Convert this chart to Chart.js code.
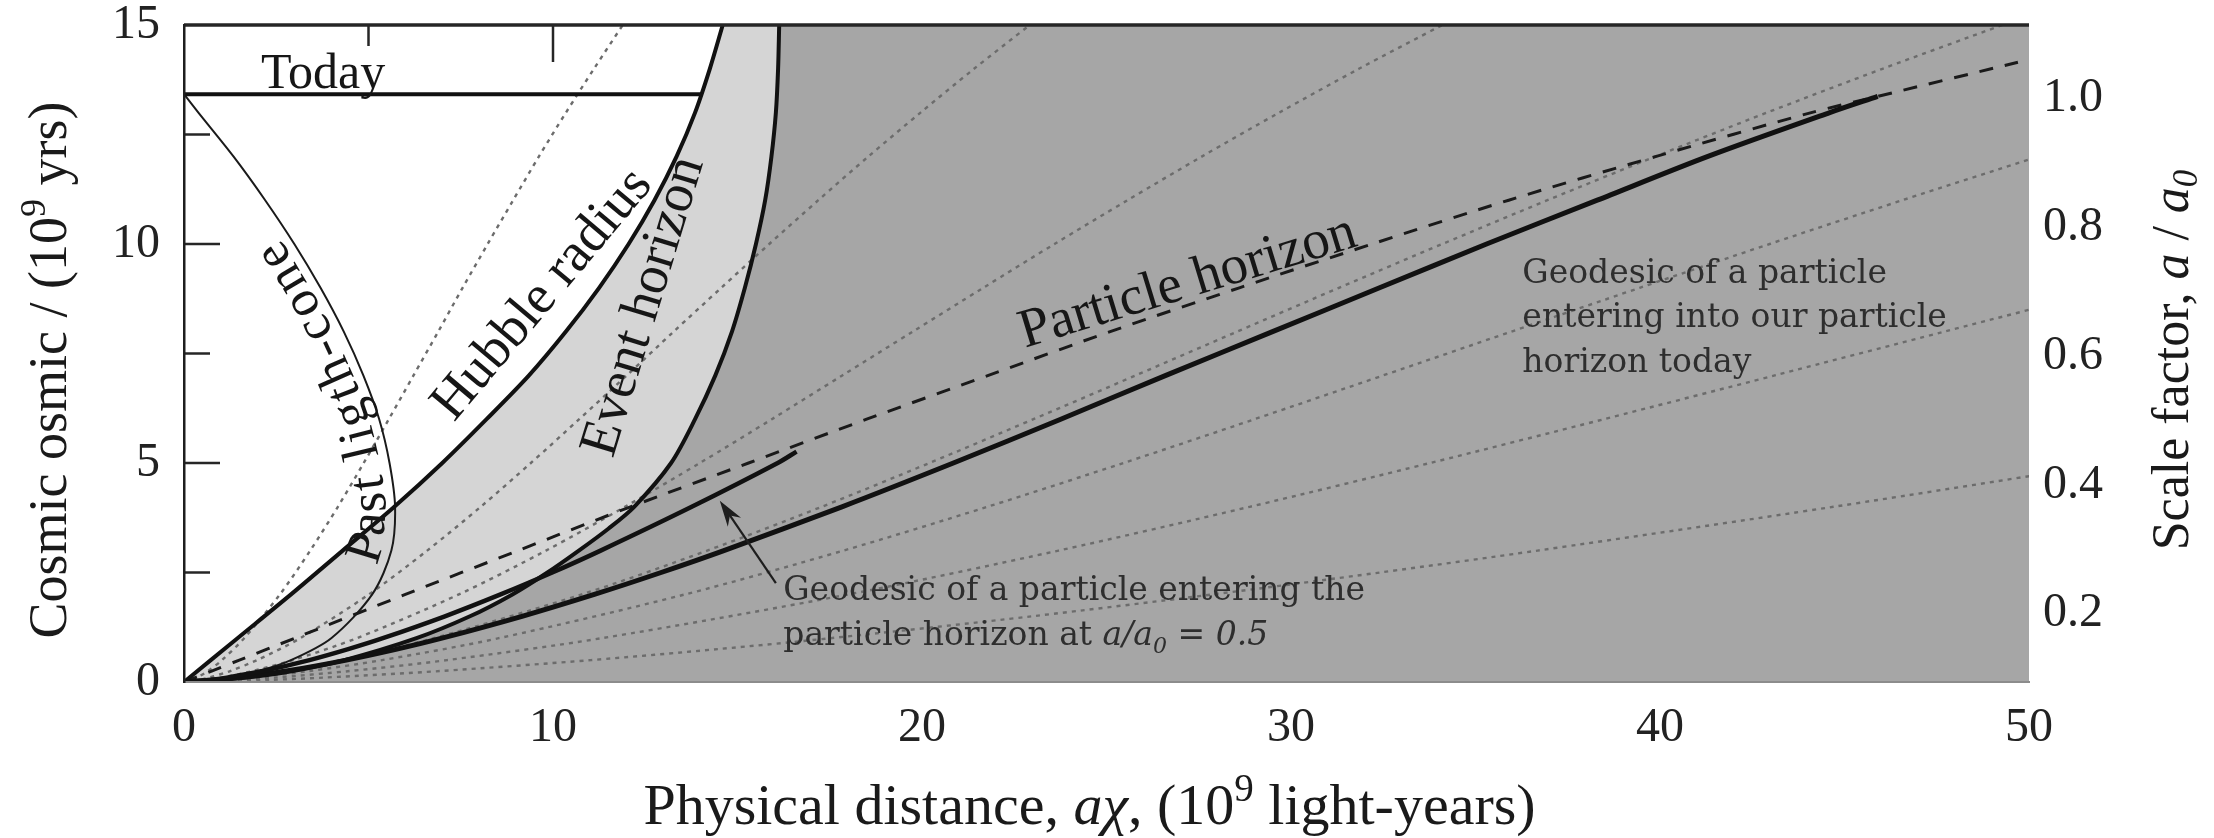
<!DOCTYPE html>
<html>
<head>
<meta charset="utf-8">
<script src="https://cdn.jsdelivr.net/npm/chart.js@4.4.1/dist/chart.umd.min.js"></script>
<style>
  html, body { margin: 0; padding: 0; background: #fff; }
</style>
</head>
<body>
<canvas id="chart" width="2214" height="838"></canvas>
<script>
// every curve is a list of [physical distance (10^9 ly), cosmic time (10^9 yr)]
const hubbleRadius = [[0,0],[1.45,1],[2.9,2],[4.3,3],[5.7,4],[7.0,5],[8.2,6],[9.35,7],[10.35,8],[11.25,9],[12.05,10],[12.75,11],[13.35,12],[13.85,13],[14.25,14],[14.6,15]];
const eventHorizon = [[0,0],[1.7,0.1],[2.95,0.25],[4.35,0.5],[6.3,1],[7.75,1.5],[8.9,2],[9.85,2.5],[10.7,3],[11.5,3.5],[12.2,4],[13.2,5],[13.85,6],[14.4,7],[14.85,8],[15.2,9],[15.5,10],[15.75,11],[15.92,12],[16.04,13],[16.1,14],[16.13,15]];
const particleHorizon = [[0,0],[0.3,0.1],[0.75,0.25],[1.5,0.5],[3.0,1],[6.0,2],[9.05,3],[12.1,4],[15.3,5],[18.5,6],[21.8,7],[25.1,8],[28.6,9],[32.2,10],[35.9,11],[39.9,12],[44.1,13],[45.9,13.37],[49.7,14.15]];
const pastLightCone = [[0,13.42],[0.39,13],[1.34,12],[2.2,11],[2.99,10],[3.7,9],[4.33,8],[4.86,7],[5.29,6],[5.57,5],[5.72,4],[5.62,3],[5.1,2],[3.99,1],[2.9,0.5],[2.02,0.25],[1.21,0.1],[0.8,0.05],[0,0]];
const todayLine = [[0,13.42],[14.02,13.42]];
const geodesicToday = [[0,0],[0.95,0.05],[1.5,0.1],[2.77,0.25],[4.4,0.5],[5.77,0.75],[6.99,1],[9.16,1.5],[11.12,2],[12.93,2.5],[14.63,3],[17.83,4],[20.85,5],[23.76,6],[26.61,7],[29.5,8],[32.4,9],[35.3,10],[38.3,11],[41.3,12],[44.6,13],[45.9,13.37]];
const geodesicHalf = [[0,0],[0.73,0.05],[1.16,0.1],[2.14,0.25],[3.4,0.5],[4.45,0.75],[5.39,1],[7.07,1.5],[8.58,2],[9.98,2.5],[11.29,3],[13.76,4],[16.09,5],[16.6,5.26]];

// comoving observers (grey dotted)
const comoving1 = [[0,0],[0.22,0.05],[0.35,0.1],[0.65,0.25],[1.03,0.5],[1.63,1],[2.6,2],[3.42,3],[4.17,4],[4.87,5],[5.55,6],[6.22,7],[6.89,8],[7.55,9],[8.23,10],[8.92,11],[9.62,12],[10.35,13],[11.11,14],[11.89,15]];
const comoving2 = [[0,0],[0.43,0.05],[0.68,0.1],[1.25,0.25],[1.98,0.5],[3.15,1],[5.01,2],[6.59,3],[8.04,4],[9.4,5],[10.71,6],[12.0,7],[13.27,8],[14.56,9],[15.86,10],[17.19,11],[18.55,12],[19.96,13],[21.41,14],[22.92,15]];
const comoving3 = [[0,0],[0.64,0.05],[1.01,0.1],[1.86,0.25],[2.95,0.5],[4.68,1],[7.45,2],[9.81,3],[11.95,4],[13.98,5],[15.93,6],[17.84,7],[19.75,8],[21.66,9],[23.59,10],[25.57,11],[27.59,12],[29.68,13],[31.84,14],[34.1,15]];
const comoving4 = [[0,0],[0.92,0.05],[1.46,0.1],[2.68,0.25],[4.26,0.5],[6.77,1],[10.78,2],[14.18,3],[17.28,4],[20.2,5],[23.02,6],[25.79,7],[28.54,8],[31.3,9],[34.1,10],[36.95,11],[39.88,12],[42.9,13],[46.03,14],[49.28,15]];
const comoving5 = [[0,0],[1.16,0.05],[1.84,0.1],[3.38,0.25],[5.37,0.5],[8.53,1],[13.58,2],[17.87,3],[21.77,4],[25.46,5],[29.01,6],[32.5,7],[35.97,8],[39.45,9],[42.97,10],[46.57,11],[50.26,12]];
const comoving6 = [[0,0],[1.53,0.05],[2.44,0.1],[4.49,0.25],[7.13,0.5],[11.32,1],[18.01,2],[23.7,3],[28.88,4],[33.77,5],[38.48,6],[43.11,7],[47.71,8],[52.32,9]];
const comoving7 = [[0,0],[2.38,0.05],[3.77,0.1],[6.94,0.25],[11.03,0.5],[14.46,0.75],[17.52,1],[22.98,1.5],[27.88,2],[32.41,2.5],[36.68,3],[44.7,4],[52.26,5]];

const xTicks = [0, 10, 20, 30, 40, 50];
const yTicks = [0, 5, 10, 15];
const scaleTicks = [0.2, 0.4, 0.6, 0.8, 1.0];
const leftMarks = [2.5, 5, 7.5, 10, 12.5];
const topMarks = [5, 10];

const SERIF = '"Liberation Serif", "Times New Roman", serif';
const NOTE = '"DejaVu Serif", serif';

const toXY = arr => arr.map(p => ({x: p[0], y: p[1]}));

function curve(label, data, color, width, extra) {
  return Object.assign({
    label: label, data: toXY(data), showLine: true, borderColor: color, borderWidth: width,
    pointRadius: 0, fill: false, tension: 0.3
  }, extra);
}

// straight labels, in data units
const curveLabels = [
  {text: 'Today', x: 3.77, t: 13.57, rot: 0, size: 50, base: 'alphabetic'},
  {text: 'Hubble radius', x: 9.72, t: 8.84, rot: -50, size: 55, base: 'middle'},
  {text: 'Event horizon', x: 12.47, t: 8.57, rot: -73, size: 55, base: 'middle'},
  {text: 'Particle horizon', x: 27.32, t: 8.8, rot: -17, size: 55, base: 'alphabetic'}
];
// label bent along the past light-cone
const coneLabel = {text: 'Past ligth-cone', tStart: 2.6, gap: 9, size: 52, spacing: 3.5};

const notes = {
  arrow: {from: [16.04, 2.26], to: [14.52, 4.14]},
  half: {x: 16.24, t: 1.87, gap: 45},
  today: {x: 36.27, t: 9.12, gap: 44.5}
};

// regions left of a curve: light grey inside the event horizon, white inside the Hubble radius
const shading = [{curve: 'event', color: '#d5d5d5'}, {curve: 'hubble', color: '#ffffff'}];

function drawRich(ctx, parts, x, y, rot, align) {
  ctx.save();
  ctx.translate(x, y);
  ctx.rotate(rot * Math.PI / 180);
  ctx.textAlign = 'left';
  ctx.textBaseline = 'alphabetic';
  let w = 0;
  parts.forEach(p => { ctx.font = p.font; w += ctx.measureText(p.text).width; });
  let cx = align === 'center' ? -w / 2 : 0;
  parts.forEach(p => {
    ctx.font = p.font;
    ctx.fillText(p.text, cx, p.dy || 0);
    cx += ctx.measureText(p.text).width;
  });
  ctx.restore();
}

function textAlong(ctx, label, pts) {
  // pts: pixel points with their time, in reading order
  const cum = [0];
  for (let i = 1; i < pts.length; i++) {
    cum.push(cum[i - 1] + Math.hypot(pts[i].x - pts[i - 1].x, pts[i].y - pts[i - 1].y));
  }
  const at = s => {
    let i = 1;
    while (i < pts.length - 1 && cum[i] < s) i++;
    const f = (s - cum[i - 1]) / (cum[i] - cum[i - 1]);
    return {x: pts[i - 1].x + f * (pts[i].x - pts[i - 1].x), y: pts[i - 1].y + f * (pts[i].y - pts[i - 1].y)};
  };
  let s = 0;
  for (let i = 1; i < pts.length; i++) {
    if (pts[i].t >= label.tStart) {
      const f = (label.tStart - pts[i - 1].t) / (pts[i].t - pts[i - 1].t);
      s = cum[i - 1] + f * (cum[i] - cum[i - 1]);
      break;
    }
  }
  ctx.save();
  ctx.font = label.size + 'px ' + SERIF;
  ctx.textAlign = 'center';
  ctx.textBaseline = 'alphabetic';
  for (const ch of label.text) {
    const w = ctx.measureText(ch).width;
    const sm = s + w / 2;
    const p0 = at(sm - 16), p1 = at(sm + 16), p = at(sm);
    const th = Math.atan2(p1.y - p0.y, p1.x - p0.x);
    ctx.save();
    ctx.translate(p.x + label.gap * Math.sin(th), p.y - label.gap * Math.cos(th));
    ctx.rotate(th);
    ctx.fillText(ch, 0, 0);
    ctx.restore();
    s += w + label.spacing;
  }
  ctx.restore();
}

const backdrop = {
  id: 'backdrop',
  beforeDatasetsDraw(chart) {
    const {ctx, chartArea: a} = chart;
    ctx.save();
    ctx.beginPath();
    ctx.rect(a.left, a.top, a.right - a.left, a.bottom - a.top);
    ctx.clip();
    ctx.fillStyle = '#a6a6a6';
    ctx.fillRect(a.left, a.top, a.right - a.left, a.bottom - a.top);
    shading.forEach(sh => {
      const idx = chart.data.datasets.findIndex(d => d.label === sh.curve);
      const line = chart.getDatasetMeta(idx).dataset;
      line.updateControlPoints(a, 'x');
      ctx.beginPath();
      line.path(ctx);
      ctx.lineTo(a.left - 2, a.top - 2);
      ctx.lineTo(a.left - 2, a.bottom);
      ctx.closePath();
      ctx.fillStyle = sh.color;
      ctx.fill();
    });
    ctx.restore();
  }
};

const decorations = {
  id: 'decorations',
  afterDatasetsDraw(chart) {
    const {ctx, chartArea: a} = chart;
    const px = v => chart.scales.x.getPixelForValue(v);
    const py = v => chart.scales.y.getPixelForValue(v);

    ctx.save();
    // frame top + inward ticks
    ctx.strokeStyle = '#262626';
    ctx.lineWidth = 3.5;
    ctx.beginPath();
    ctx.moveTo(a.left, a.top); ctx.lineTo(a.right, a.top);
    ctx.stroke();
    ctx.lineWidth = 2.5;
    leftMarks.forEach(v => {
      const len = v % 5 === 0 ? 36 : 26;
      ctx.beginPath(); ctx.moveTo(a.left, py(v)); ctx.lineTo(a.left + len, py(v)); ctx.stroke();
    });
    topMarks.forEach(v => {
      const len = v % 10 === 0 ? 37 : 21;
      ctx.beginPath(); ctx.moveTo(px(v), a.top); ctx.lineTo(px(v), a.top + len); ctx.stroke();
    });

    // labels on curves
    ctx.fillStyle = '#161616';
    curveLabels.forEach(l => {
      ctx.save();
      ctx.translate(px(l.x), py(l.t));
      ctx.rotate(l.rot * Math.PI / 180);
      ctx.font = l.size + 'px ' + SERIF;
      ctx.textAlign = 'center';
      ctx.textBaseline = l.base;
      ctx.fillText(l.text, 0, 0);
      ctx.restore();
    });
    const conePts = pastLightCone.slice().reverse().map(p => ({x: px(p[0]), y: py(p[1]), t: p[1]}));
    textAlong(ctx, coneLabel, conePts);

    // arrow
    const x0 = px(notes.arrow.from[0]), y0 = py(notes.arrow.from[1]);
    const x1 = px(notes.arrow.to[0]), y1 = py(notes.arrow.to[1]);
    const ang = Math.atan2(y1 - y0, x1 - x0);
    ctx.strokeStyle = '#1e1e1e';
    ctx.fillStyle = '#1e1e1e';
    ctx.lineWidth = 2.2;
    ctx.beginPath();
    ctx.moveTo(x0, y0);
    ctx.lineTo(x1 - 14 * Math.cos(ang), y1 - 14 * Math.sin(ang));
    ctx.stroke();
    ctx.beginPath();
    ctx.moveTo(x1, y1);
    ctx.lineTo(x1 - 26 * Math.cos(ang) + 8 * Math.sin(ang), y1 - 26 * Math.sin(ang) - 8 * Math.cos(ang));
    ctx.lineTo(x1 - 18 * Math.cos(ang), y1 - 18 * Math.sin(ang));
    ctx.lineTo(x1 - 26 * Math.cos(ang) - 8 * Math.sin(ang), y1 - 26 * Math.sin(ang) + 8 * Math.cos(ang));
    ctx.closePath();
    ctx.fill();

    // notes
    ctx.fillStyle = '#2e2e2e';
    const nf = '33px ' + NOTE, ni = 'italic 33px ' + NOTE;
    const hx = px(notes.half.x), hy = py(notes.half.t);
    drawRich(ctx, [{text: 'Geodesic of a particle entering the', font: nf}], hx, hy, 0, 'left');
    drawRich(ctx, [
      {text: 'particle horizon at ', font: nf},
      {text: 'a/a', font: ni},
      {text: '0', font: 'italic 22px ' + NOTE, dy: 8},
      {text: ' = 0.5', font: ni}
    ], hx, hy + notes.half.gap, 0, 'left');
    const tx = px(notes.today.x), ty = py(notes.today.t);
    ['Geodesic of a particle', 'entering into our particle', 'horizon today'].forEach((s, i) => {
      drawRich(ctx, [{text: s, font: nf}], tx, ty + i * notes.today.gap, 0, 'left');
    });

    // axis titles
    ctx.fillStyle = '#1a1a1a';
    drawRich(ctx, [
      {text: 'Physical distance, ', font: '58px ' + SERIF},
      {text: 'a\u03c7', font: 'italic 58px ' + SERIF},
      {text: ', (10', font: '58px ' + SERIF},
      {text: '9', font: '39px ' + SERIF, dy: -23},
      {text: ' light-years)', font: '58px ' + SERIF}
    ], (a.left + a.right) / 2 - 17, 824, 0, 'center');
    drawRich(ctx, [
      {text: 'Cosmic osmic / (10', font: '54px ' + SERIF},
      {text: '9', font: '36px ' + SERIF, dy: -21},
      {text: ' yrs)', font: '54px ' + SERIF}
    ], 66, 370, -90, 'center');
    drawRich(ctx, [
      {text: 'Scale factor, ', font: '52px ' + SERIF},
      {text: 'a', font: 'italic 52px ' + SERIF},
      {text: ' / ', font: '52px ' + SERIF},
      {text: 'a', font: 'italic 52px ' + SERIF},
      {text: '0', font: 'italic 35px ' + SERIF, dy: 9}
    ], 2188, 360, -90, 'center');
    ctx.restore();
  }
};

const tickFont = {family: SERIF, size: 48, lineHeight: 1};
const noPadV = s => { s.paddingTop = 0; s.paddingBottom = 0; };

new Chart(document.getElementById('chart'), {
  type: 'scatter',
  data: {
    datasets: [
      ...[comoving1, comoving2, comoving3, comoving4, comoving5, comoving6, comoving7]
        .map((d, i) => curve('comoving' + (i + 1), d, '#6c6c6c', 2.4, {borderDash: [4, 5], order: 20})),
      curve('cone', pastLightCone, '#1a1a1a', 2, {order: 6}),
      curve('particle', particleHorizon, '#1a1a1a', 3, {borderDash: [14, 12], order: 5}),
      curve('hubble', hubbleRadius, '#111', 4, {order: 4}),
      curve('event', eventHorizon, '#111', 4, {order: 4}),
      curve('geoHalf', geodesicHalf, '#111', 4.5, {order: 3}),
      curve('geoToday', geodesicToday, '#111', 5, {order: 3}),
      curve('today', todayLine, '#111', 4, {order: 2, tension: 0})
    ]
  },
  options: {
    responsive: false,
    animation: false,
    devicePixelRatio: 1,
    layout: {padding: {top: 25, left: 0, right: 0, bottom: 0}},
    plugins: {legend: {display: false}, tooltip: {enabled: false}},
    scales: {
      x: {
        type: 'linear', min: 0, max: 50, position: 'bottom',
        afterBuildTicks: s => { s.ticks = xTicks.map(v => ({value: v})); },
        afterFit: s => { s.height = 156; s.paddingLeft = 0; s.paddingRight = 0; },
        grid: {display: false, drawTicks: false},
        border: {display: true, color: '#8c8c8c', width: 2, z: 1},
        ticks: {font: tickFont, color: '#222', padding: 22, maxRotation: 0, autoSkip: false}
      },
      y: {
        type: 'linear', min: 0, max: 15, position: 'left',
        afterBuildTicks: s => { s.ticks = yTicks.map(v => ({value: v})); },
        afterFit: s => { s.width = 184; noPadV(s); },
        grid: {display: false, drawTicks: false},
        border: {display: true, color: '#1e1e1e', width: 2.5, z: 1},
        ticks: {font: tickFont, color: '#222', padding: 24, autoSkip: false}
      },
      y2: {
        type: 'linear', min: 0.094, max: 1.114, position: 'right',
        afterBuildTicks: s => { s.ticks = scaleTicks.map(v => ({value: v})); },
        afterFit: s => { s.width = 185; noPadV(s); },
        grid: {display: false, drawTicks: false},
        border: {display: false},
        ticks: {font: tickFont, color: '#222', padding: 14, autoSkip: false, callback: v => v.toFixed(1)}
      }
    }
  },
  plugins: [backdrop, decorations]
});
</script>
</body>
</html>
